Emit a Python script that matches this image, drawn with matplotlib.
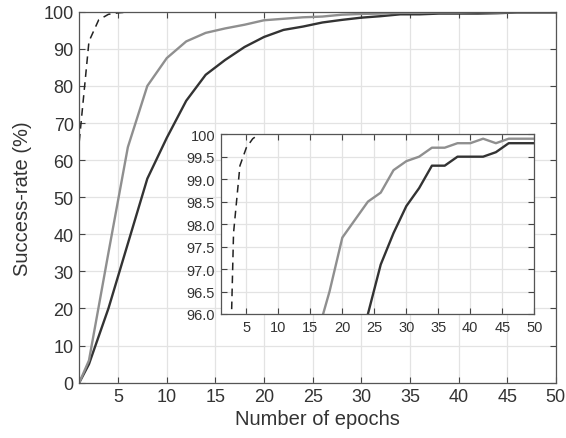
import matplotlib
matplotlib.use("Agg")
import matplotlib.pyplot as plt

plt.rcParams["font.family"] = ["Liberation Sans", "DejaVu Sans"]

# epochs and success-rate (%) for the three runs
epochs_a = [1, 2, 4, 6, 8, 10, 12, 14, 16, 18, 20, 22, 24, 26, 28, 30, 32, 34, 36, 38, 40, 42, 44, 46, 48, 50]
rate_a = [0, 5, 20, 37.5, 55, 66, 76, 83, 87, 90.5, 93.2, 95.1, 96.0, 97.1, 97.8, 98.4, 98.8, 99.3, 99.3,
          99.5, 99.5, 99.5, 99.6, 99.8, 99.8, 99.8]
rate_b = [0, 6, 35, 63.5, 80, 87.5, 92, 94.3, 95.5, 96.5, 97.7, 98.1, 98.5, 98.7, 99.2, 99.4, 99.5, 99.7, 99.7,
          99.8, 99.8, 99.9, 99.8, 99.9, 99.9, 99.9]
epochs_c = [1, 2, 3, 4, 5, 6, 7, 8, 10, 20, 30, 40, 50]
rate_c = [65, 92, 97.8, 99.3, 99.7, 99.9, 100, 100, 100, 100, 100, 100, 100]

dark = "#333333"
light = "#8f8f8f"
dash = (0, (5, 3.5))

fig = plt.figure(figsize=(5.66, 4.39), dpi=100)
ax = fig.add_axes([0.140, 0.126, 0.842, 0.845])


def style(a, fs):
    a.grid(True, color="#e3e3e3", lw=0.9)
    a.set_axisbelow(True)
    a.tick_params(direction="in", top=True, right=True, length=4, width=0.8, pad=4,
                  colors="#444444", labelsize=fs, labelcolor="#333333")
    for s in a.spines.values():
        s.set_color("#555555")
        s.set_linewidth(0.9)


ax.plot(epochs_a, rate_a, color=dark, lw=1.7)
ax.plot(epochs_a, rate_b, color=light, lw=1.7)
ax.plot(epochs_c, rate_c, color="#222222", lw=1.1, ls=dash)
ax.set_xlim(1, 50)
ax.set_ylim(0, 100)
ax.set_xticks(range(5, 51, 5))
ax.set_yticks(range(0, 101, 10))
style(ax, 13)
ax.set_xlabel("Number of epochs", fontsize=14.5, color="#333333", labelpad=3)
ax.set_ylabel("Success-rate (%)", fontsize=14.5, color="#333333", labelpad=8)

# zoomed view of the top of the curves
ins = fig.add_axes([0.390, 0.2825, 0.554, 0.4095])
ins.set_facecolor("white")
ins.plot(epochs_a, rate_a, color=dark, lw=1.7)
ins.plot(epochs_a, rate_b, color=light, lw=1.7)
ins.plot(epochs_c, rate_c, color="#222222", lw=1.1, ls=dash)
ins.set_xlim(1, 50)
ins.set_ylim(96, 100)
ins.set_xticks(range(5, 51, 5))
yt = [96.0, 96.5, 97.0, 97.5, 98.0, 98.5, 99.0, 99.5, 100]
ins.set_yticks(yt)
ins.set_yticklabels(["%.1f" % v for v in yt[:-1]] + ["100"])
style(ins, 10.5)

fig.savefig("out.png", dpi=100)
